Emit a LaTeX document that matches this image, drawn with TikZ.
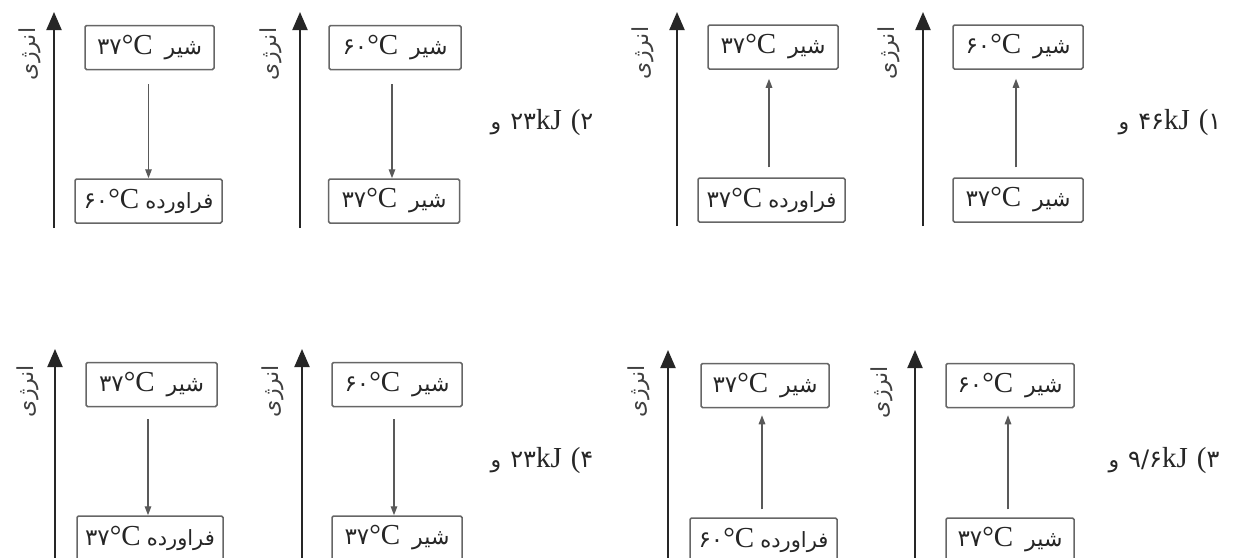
\documentclass[tikz,border=0pt]{standalone}
\usepackage{fontspec}
\setmainfont{Liberation Serif}
\newfontfamily\fa[Script=Arabic]{DejaVu Sans}
\TeXXeTstate=1
\usetikzlibrary{arrows.meta}

\definecolor{boxgray}{HTML}{666666}
\definecolor{inkgray}{HTML}{262626}

% level labels: temperature on the left, substance name on the right
\newcommand\milklbl[1]{{\fa\fontsize{23}{26}\selectfont #1}°C\hspace{12pt}{\fa\fontsize{22}{24}\selectfont\beginR شیر\endR}}
\newcommand\productlbl[1]{{\fa\fontsize{23}{26}\selectfont #1}°C\hspace{6pt}{\fa\fontsize{21}{24}\selectfont\beginR فراورده\endR}}
\newcommand\energylbl{\beginR انرژی\endR}
\newcommand\choicelbl[2]{{\fa\fontsize{22}{26}\selectfont و}\hspace{9pt}{\fa\fontsize{24}{26}\selectfont #1}kJ\hspace{9pt}({\fa\fontsize{24}{26}\selectfont #2}}

\tikzset{
  lvl/.style={draw=boxgray, line width=1.5pt, rounded corners=1.5pt,
    minimum height=44pt, inner sep=0pt, text=inkgray,
    font=\fontsize{29}{30}\selectfont},
  axisline/.style={draw=inkgray, line width=2pt,
    -{Triangle[length=18pt,width=15pt]}},
  transition/.style={draw=black!65, line width=1.4pt,
    -{Triangle[length=9pt,width=6.5pt]}},
  axislabel/.style={rotate=90, text=black!75, inner sep=0pt,
    font=\fa\fontsize{22}{24}\selectfont},
  choice/.style={inner sep=0pt, text=inkgray, font=\fontsize{29}{30}\selectfont},
}

\begin{document}
\begin{tikzpicture}[x=1pt,y=-1pt]
\clip (0,0) rectangle (1239,557);
\fill[white] (0,0) rectangle (1239,557);

% ---------- first row ----------
% diagram A
\coordinate (aA0) at (54,228); \coordinate (aA1) at (54,12);
\draw[axisline] (aA0) -- (aA1);
\node[axislabel] (lA) at (30,54) {\energylbl};
\node[lvl, minimum width=129pt] (tA) at (149.5,47.5) {\milklbl{۳۷}};
\node[lvl, minimum width=147pt] (bA) at (148.5,201) {\productlbl{۶۰}};
\draw[transition, shorten <=14pt] (tA.south -| bA.north) -- (bA.north);

% diagram B
\coordinate (aB0) at (300,228); \coordinate (aB1) at (300,12);
\draw[axisline] (aB0) -- (aB1);
\node[axislabel] (lB) at (271,54) {\energylbl};
\node[lvl, minimum width=132pt] (tB) at (395,47.5) {\milklbl{۶۰}};
\node[lvl, minimum width=131pt] (bB) at (394,201) {\milklbl{۳۷}};
\draw[transition, shorten <=14pt] (tB.south -| 392,0) -- (bB.north -| 392,0);

\node[choice] (cB) at (542,123) {\choicelbl{۲۳}{۲}};

% diagram C
\coordinate (aC0) at (677,226); \coordinate (aC1) at (677,12);
\draw[axisline] (aC0) -- (aC1);
\node[axislabel] (lC) at (643,53) {\energylbl};
\node[lvl, minimum width=130pt] (tC) at (773,47) {\milklbl{۳۷}};
\node[lvl, minimum width=147pt] (bC) at (771.5,200) {\productlbl{۳۷}};
\draw[transition, shorten <=10pt, shorten >=9pt] (bC.north -| 769,0) -- (tC.south -| 769,0);

% diagram D
\coordinate (aD0) at (923,226); \coordinate (aD1) at (923,12);
\draw[axisline] (aD0) -- (aD1);
\node[axislabel] (lD) at (889,53) {\energylbl};
\node[lvl, minimum width=130pt] (tD) at (1018,47) {\milklbl{۶۰}};
\node[lvl, minimum width=130pt] (bD) at (1018,200) {\milklbl{۳۷}};
\draw[transition, shorten <=10pt, shorten >=9pt] (bD.north -| 1016,0) -- (tD.south -| 1016,0);

\node[choice] (cD) at (1170,123) {\choicelbl{۴۶}{۱}};

% ---------- second row ----------
% diagram E
\coordinate (aE0) at (55,570); \coordinate (aE1) at (55,349);
\draw[axisline] (aE0) -- (aE1);
\node[axislabel] (lE) at (28,391) {\energylbl};
\node[lvl, minimum width=131pt] (tE) at (151.5,384.5) {\milklbl{۳۷}};
\node[lvl, minimum width=146pt] (bE) at (150,538) {\productlbl{۳۷}};
\draw[transition, shorten <=12pt] (tE.south -| 148,0) -- (bE.north -| 148,0);

% diagram F
\coordinate (aF0) at (302,570); \coordinate (aF1) at (302,349);
\draw[axisline] (aF0) -- (aF1);
\node[axislabel] (lF) at (273,391) {\energylbl};
\node[lvl, minimum width=130pt] (tF) at (397,384.5) {\milklbl{۶۰}};
\node[lvl, minimum width=130pt] (bF) at (397,538) {\milklbl{۳۷}};
\draw[transition, shorten <=12pt] (tF.south -| 394,0) -- (bF.north -| 394,0);

\node[choice] (cF) at (542,461) {\choicelbl{۲۳}{۴}};

% diagram G
\coordinate (aG0) at (668,570); \coordinate (aG1) at (668,350);
\draw[axisline] (aG0) -- (aG1);
\node[axislabel] (lG) at (639,391) {\energylbl};
\node[lvl, minimum width=128pt] (tG) at (765,385.5) {\milklbl{۳۷}};
\node[lvl, minimum width=147pt] (bG) at (763.5,540) {\productlbl{۶۰}};
\draw[transition, shorten <=8pt, shorten >=7pt] (bG.north -| 762,0) -- (tG.south -| 762,0);

% diagram H
\coordinate (aH0) at (915,570); \coordinate (aH1) at (915,350);
\draw[axisline] (aH0) -- (aH1);
\node[axislabel] (lH) at (882,392) {\energylbl};
\node[lvl, minimum width=128pt] (tH) at (1010,385.5) {\milklbl{۶۰}};
\node[lvl, minimum width=128pt] (bH) at (1010,540) {\milklbl{۳۷}};
\draw[transition, shorten <=8pt, shorten >=7pt] (bH.north -| 1008,0) -- (tH.south -| 1008,0);

\node[choice] (cH) at (1164,461) {\choicelbl{۹/۶}{۳}};
\end{tikzpicture}
\end{document}
